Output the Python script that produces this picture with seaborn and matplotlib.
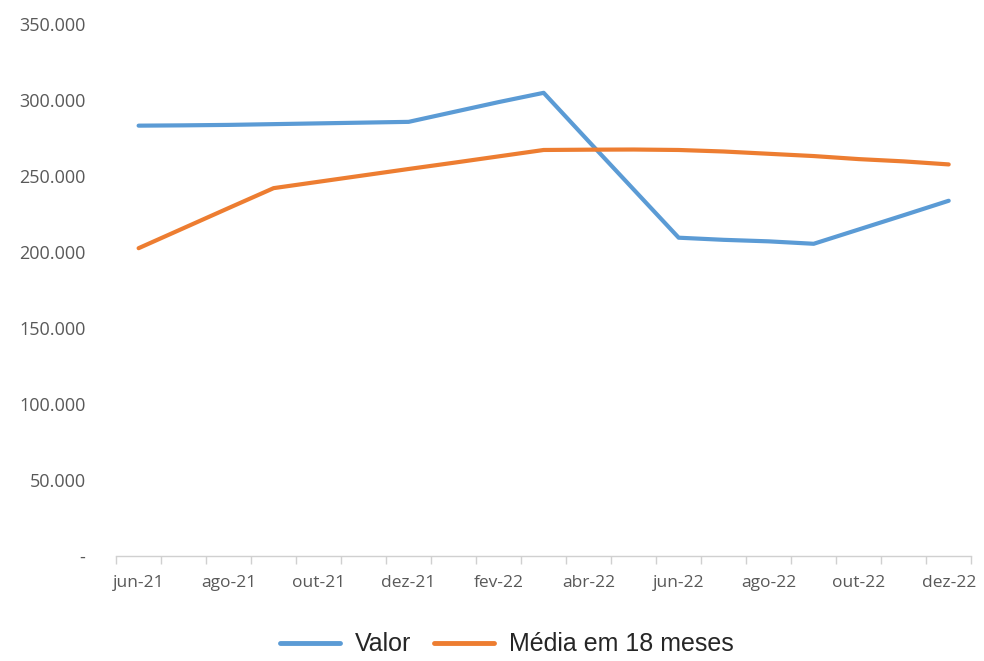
import matplotlib
matplotlib.use("Agg")
import matplotlib.pyplot as plt
import matplotlib.ticker as mticker
import seaborn as sns
import pandas as pd

# monthly values, jun-21 .. dez-22
months = ["jun-21", "jul-21", "ago-21", "set-21", "out-21", "nov-21", "dez-21",
          "jan-22", "fev-22", "mar-22", "abr-22", "mai-22", "jun-22", "jul-22",
          "ago-22", "set-22", "out-22", "nov-22", "dez-22"]
valor = [283000, 283200, 283500, 284000, 284500, 285000, 285500,
         292000, 298500, 304600, 272700, 241000, 209300, 207900,
         206900, 205300, 214700, 224100, 233600]
media = [202400, 215600, 228800, 241900, 246100, 250300, 254500,
         258600, 262800, 267000, 267200, 267300, 267000, 266000,
         264500, 263000, 261000, 259500, 257500]

df = pd.DataFrame({
    "mes": list(range(len(months))) * 2,
    "valor": valor + media,
    "serie": ["Valor"] * len(months) + ["Média em 18 meses"] * len(months),
})

sns.set_style("white")
plt.rcParams["font.family"] = ["Open Sans", "DejaVu Sans"]

fig = plt.figure(figsize=(9.84, 6.61), dpi=100)
ax = fig.add_axes([0.118, 0.159, 0.869, 0.805])

sns.lineplot(data=df, x="mes", y="valor", hue="serie",
             palette={"Valor": "#5B9BD5", "Média em 18 meses": "#ED7D31"},
             linewidth=3, ax=ax, legend=False)

ax.set_xlim(-0.5, len(months) - 0.5)
ax.set_ylim(0, 350000)
ax.set_yticks(range(0, 350001, 50000))
ax.yaxis.set_major_formatter(mticker.FuncFormatter(
    lambda v, p: "-" if v == 0 else f"{int(v):,}".replace(",", ".")))

ax.set_xticks(range(0, len(months), 2))
ax.set_xticklabels(months[::2])
ax.set_xticks([i - 0.5 for i in range(len(months) + 1)], minor=True)
ax.tick_params(axis="x", which="major", bottom=True, length=0, pad=14,
               labelsize=12.5, labelcolor="#595959")
ax.tick_params(axis="x", which="minor", bottom=True, length=6, color="#D0D0D0",
               width=1, direction="out")
ax.tick_params(axis="y", length=0, pad=22, labelsize=13, labelcolor="#595959")
ax.set_xlabel("")
ax.set_ylabel("")

for s in ["top", "right", "left"]:
    ax.spines[s].set_visible(False)
ax.spines["bottom"].set_color("#D0D0D0")
ax.spines["bottom"].set_linewidth(1)

handles = [plt.Line2D([], [], color="#5B9BD5", lw=3.5),
           plt.Line2D([], [], color="#ED7D31", lw=3.5)]
fig.legend(handles, ["Valor", "Média em 18 meses"], loc="lower center",
           bbox_to_anchor=(0.515, -0.027), ncol=2, frameon=False,
           prop={"family": "Liberation Sans", "size": 18},
           handlelength=2.4, columnspacing=0.9, handletextpad=0.6,
           labelcolor="#262626")

fig.savefig("out.png", dpi=100)
